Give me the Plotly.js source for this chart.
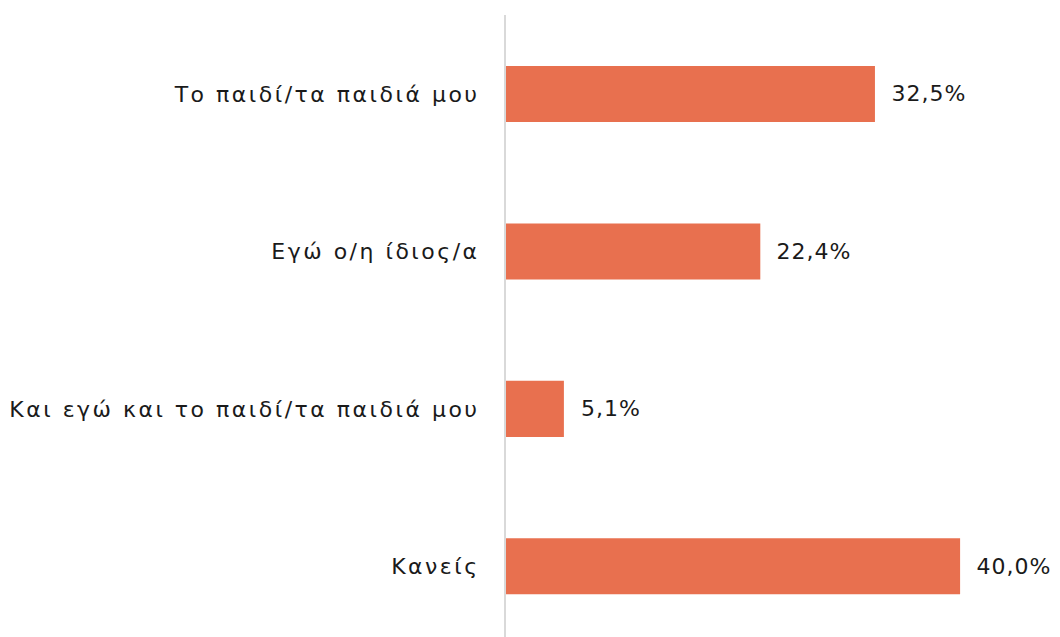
<!DOCTYPE html>
<html>
<head>
<meta charset="utf-8">
<script src="https://cdn.plot.ly/plotly-3.0.1.min.js"></script>
<style>
html,body{margin:0;padding:0;background:#fff;}
#chart{width:1060px;height:637px;}
#chart .ytick text{letter-spacing:2.5px !important;}
#chart .annotation-text{letter-spacing:1px !important;}
</style>
</head>
<body>
<div id="chart"></div>
<script>
const categories = ["Το παιδί/τα παιδιά μου", "Εγώ ο/η ίδιος/α", "Και εγώ και το παιδί/τα παιδιά μου", "Κανείς"];
const values = [32.5, 22.4, 5.1, 40.0];
const valueLabels = values.map(v => v.toFixed(1).replace('.', ',') + '%');

const FONT = "DejaVu Sans, sans-serif";
const trace = {
  type: 'bar',
  orientation: 'h',
  y: categories,
  x: values,
  marker: {color: '#E8704F'},
  width: 0.356,
  hoverinfo: 'none'
};
const annotations = values.map((v, i) => ({
  x: v, y: categories[i], xref: 'x', yref: 'y',
  text: valueLabels[i], showarrow: false, xanchor: 'left', xshift: 17,
  font: {family: FONT, size: 22, color: '#1a1a1a'}
}));
const layout = {
  width: 1060, height: 637,
  margin: {l: 506, r: 0, t: 15, b: 0},
  paper_bgcolor: '#fff', plot_bgcolor: '#fff',
  showlegend: false,
  xaxis: {range: [0, 48.8], showgrid: false, zeroline: false, showticklabels: false, ticks: '', showline: false, fixedrange: true},
  yaxis: {type: 'category', range: [3.449, -0.5016], showgrid: false, zeroline: false, ticks: '',
          showline: true, linecolor: '#d9d9d9', linewidth: 2, ticklabelstandoff: 20,
          tickfont: {family: FONT, size: 22, color: '#1a1a1a'}},
  annotations: annotations,
  font: {family: FONT}
};
Plotly.newPlot('chart', [trace], layout, {displayModeBar: false, staticPlot: true});
</script>
</body>
</html>
